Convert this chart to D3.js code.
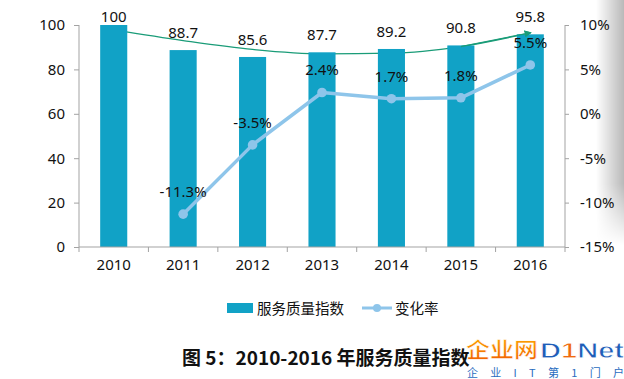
<!DOCTYPE html>
<html><head><meta charset="utf-8">
<script src="https://cdn.jsdelivr.net/npm/d3@7/dist/d3.min.js"></script>
<style>
html,body{margin:0;padding:0;background:#fff;}
svg{display:block;}
</style></head>
<body>
<svg id="c" width="624" height="379"></svg>
<script>
const years = ["2010","2011","2012","2013","2014","2015","2016"];
const indexValues = [100, 88.7, 85.6, 87.7, 89.2, 90.8, 95.8];
const rateYears = ["2011","2012","2013","2014","2015","2016"];
const rateValues = [-11.3, -3.5, 2.4, 1.7, 1.8, 5.5];
const trendValues = [97.8, 93.0, 89.0, 87.0, 87.3, 90.3, 96.5];
const leftTicks = [0, 20, 40, 60, 80, 100];
const rightTicks = [-15, -10, -5, 0, 5, 10];
const seriesNames = ["服务质量指数", "变化率"];
const titleText = "图 5：2010-2016 年服务质量指数";

const barColor = "#11a2c6", lineColor = "#8ec5ea", trendColor = "#1a9c78", axisColor = "#a3a3a3";
const latin = "'Noto Sans', 'DejaVu Sans', sans-serif";
const cjk = "'Noto Sans CJK SC', 'Noto Sans', sans-serif";

const svg = d3.select("#c");
const L = 79, R = 565, T = 25, B = 247;

const defs = svg.append("defs");
const gH = defs.append("linearGradient").attr("id","shH").attr("x1","0").attr("x2","1").attr("y1","0").attr("y2","0");
gH.append("stop").attr("offset","0").attr("stop-color","#fff");
gH.append("stop").attr("offset","1").attr("stop-color","#b9b9b9");
const gV = defs.append("linearGradient").attr("id","shV").attr("x1","0").attr("x2","0").attr("y1","0").attr("y2","1");
gV.append("stop").attr("offset","0").attr("stop-color","#fff");
gV.append("stop").attr("offset","0.75").attr("stop-color","#fff");
gV.append("stop").attr("offset","1").attr("stop-color","#000");
defs.append("mask").attr("id","shM").append("rect").attr("x",596).attr("y",0).attr("width",28).attr("height",245).attr("fill","url(#shV)");
svg.append("rect").attr("x",596).attr("y",0).attr("width",28).attr("height",245).attr("fill","url(#shH)").attr("mask","url(#shM)");

const x = d3.scaleBand().domain(years).range([L, R]).padding(0);
const cx = d => x(d) + x.bandwidth()/2;
const barW = x.bandwidth() * 0.39;
const y = d3.scaleLinear().domain([0, 100]).range([B, T]);
const y2 = d3.scaleLinear().domain([-15, 10]).range([B, T]);

// trend line (behind bars)
defs.append("marker").attr("id","arr").attr("viewBox","0 0 10 10").attr("refX",8).attr("refY",5)
  .attr("markerWidth",7).attr("markerHeight",7).attr("markerUnits","userSpaceOnUse").attr("orient","auto")
  .append("path").attr("d","M0,0 L10,5 L0,10 Z").attr("fill",trendColor);
svg.append("path")
  .datum(years.map((yr,i)=>[cx(yr), y(trendValues[i])]))
  .attr("d", d3.line().curve(d3.curveMonotoneX))
  .attr("fill","none").attr("stroke",trendColor).attr("stroke-width",1.3)
  .attr("marker-end","url(#arr)");

// bars
svg.append("g").selectAll("rect").data(years).join("rect")
  .attr("x", d => cx(d) - barW/2).attr("width", barW)
  .attr("y", (d,i) => y(indexValues[i])).attr("height", (d,i) => y(0) - y(indexValues[i]))
  .attr("fill", barColor);

// redraw arrow head portion above last bar
svg.append("path")
  .datum(years.slice(5).map((yr,i)=>[cx(yr), y(trendValues[i+5])]))
  .attr("d", d3.line().curve(d3.curveMonotoneX))
  .attr("fill","none").attr("stroke",trendColor).attr("stroke-width",1.3)
  .attr("marker-end","url(#arr)");

// axes
const gl = svg.append("g").attr("transform",`translate(${L},0)`)
  .call(d3.axisLeft(y).tickValues(leftTicks).tickSize(5).tickPadding(9));
const gr = svg.append("g").attr("transform",`translate(${R},0)`)
  .call(d3.axisRight(y2).tickValues(rightTicks).tickSize(4).tickPadding(11).tickFormat(d => d + "%"));
const gb = svg.append("g").attr("transform",`translate(0,${B})`)
  .call(d3.axisBottom(x).tickSize(0).tickPadding(12));
[gl, gr, gb].forEach(g => {
  g.select(".domain").attr("stroke", axisColor);
  g.selectAll(".tick line").attr("stroke", axisColor);
  g.selectAll("text").attr("font-family", latin).attr("font-size", 15).attr("fill","#111");
});
gl.select(".domain").attr("d", `M0,${T}V${B}`);
gr.select(".domain").attr("d", `M0,${T}V${B}`);
gb.select(".domain").attr("d", `M${L},0H${R}`);
gb.selectAll("text").attr("dy","0.71em");
svg.append("g").selectAll("line").data(years.concat(["end"])).join("line")
  .attr("x1", d => d==="end" ? R : x(d)).attr("x2", d => d==="end" ? R : x(d))
  .attr("y1", B).attr("y2", B + 5).attr("stroke", axisColor);

// bar value labels
svg.append("g").selectAll("text").data(years).join("text")
  .attr("x", d => cx(d)).attr("y", (d,i) => Math.max(y(indexValues[i]) - 12, 22))
  .attr("text-anchor","middle").attr("font-family",latin).attr("font-size",15).attr("fill","#111")
  .text((d,i) => String(indexValues[i]));

// change rate line
svg.append("path")
  .datum(rateYears.map((yr,i)=>[cx(yr), y2(rateValues[i])]))
  .attr("d", d3.line())
  .attr("fill","none").attr("stroke",lineColor).attr("stroke-width",3.5).attr("stroke-linejoin","round");
svg.append("g").selectAll("circle").data(rateYears).join("circle")
  .attr("cx", d => cx(d)).attr("cy", (d,i) => y2(rateValues[i])).attr("r", 4.8).attr("fill", lineColor);
svg.append("g").selectAll("text").data(rateYears).join("text")
  .attr("x", d => cx(d)).attr("y", (d,i) => y2(rateValues[i]) - 17)
  .attr("text-anchor","middle").attr("font-family",latin).attr("font-size",15).attr("fill","#111")
  .text((d,i) => rateValues[i].toFixed(1) + "%");

// legend
const lg = svg.append("g");
lg.append("rect").attr("x",227).attr("y",303).attr("width",26).attr("height",10).attr("fill",barColor);
lg.append("text").attr("x",257).attr("y",314).attr("font-family",cjk).attr("font-size",14.5).attr("fill","#111").text(seriesNames[0]);
lg.append("line").attr("x1",362).attr("x2",392).attr("y1",308).attr("y2",308).attr("stroke",lineColor).attr("stroke-width",3);
lg.append("circle").attr("cx",377).attr("cy",308).attr("r",4).attr("fill",lineColor);
lg.append("text").attr("x",395).attr("y",314).attr("font-family",cjk).attr("font-size",14.5).attr("fill","#111").text(seriesNames[1]);

// title
svg.append("text").attr("x",182).attr("y",365).attr("font-family",cjk).attr("font-weight","bold")
  .attr("font-size",19).attr("fill","#111").text(titleText);

// watermark
const wm = svg.append("g");
const og = defs.append("linearGradient").attr("id","og").attr("x1","0").attr("x2","0").attr("y1","0").attr("y2","1");
og.append("stop").attr("offset","0").attr("stop-color","#ffb000");
og.append("stop").attr("offset","1").attr("stop-color","#f05a00");
wm.append("text").attr("x",466).attr("y",357).attr("font-family",cjk).attr("font-weight","bold")
  .attr("font-size",21).attr("fill","url(#og)").attr("stroke","#fff").attr("stroke-width",0.6)
  .attr("textLength",72).attr("lengthAdjust","spacingAndGlyphs").text("企业网");
wm.append("text").attr("x",540).attr("y",358).attr("font-family","'Liberation Sans', sans-serif").attr("font-weight","bold")
  .attr("font-size",22).attr("fill","#1f5db8").attr("stroke","#fff").attr("stroke-width",0.8)
  .attr("textLength",84).attr("lengthAdjust","spacingAndGlyphs")
  .selectAll("tspan").data(["D","1","Net"]).join("tspan").attr("fill", d => d==="1" ? "#f06a10" : "#1f5db8").text(d => d);
wm.append("text").attr("x",467).attr("y",377).attr("font-family",cjk)
  .attr("font-size",11).attr("fill","#2a6cc0").attr("textLength",157).attr("lengthAdjust","spacing").text("企 业 I T 第 1 门 户");
</script>
</body></html>
